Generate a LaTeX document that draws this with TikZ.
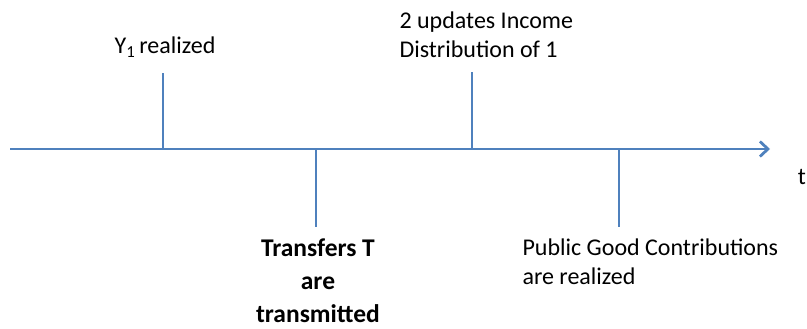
\documentclass[tikz,border=0pt]{standalone}
\usepackage{fontspec}
\setmainfont{Carlito}
\usetikzlibrary{arrows.meta}
\definecolor{axisblue}{RGB}{79,129,189}
\begin{document}
\begin{tikzpicture}[x=1pt, y=-1pt, line join=round, >={Straight Barb[length=8pt,width=15pt]}, font=\fontsize{24}{29}\selectfont]
		\useasboundingbox (0,0) rectangle (807,329);
		\coordinate (S) at (10,149);
		\coordinate (E) at (770,149);
		\coordinate (A) at (163,149);
		\coordinate (B) at (316,149);
		\coordinate (C) at (472,149);
		\coordinate (D) at (619,149);
		\draw[axisblue, line width=2.8pt, ->] (S)--(E);
		\draw[axisblue, line width=2.8pt] (A)--(163,73);
		\draw[axisblue, line width=2.8pt] (B)--(316,227);
		\draw[axisblue, line width=2.8pt] (C)--(472,72);
		\draw[axisblue, line width=2.8pt] (D)--(619,227);
		\node (ya) at (165,47) {Y$_{\mathrm{1}}$\,realized};
		\node[anchor=west, align=left] (upd) at (396,35) {2 updates Income\\Distribution of 1};
		\node (t) at (802,177) {t};
		\node[align=center, font=\fontsize{25.5}{33}\selectfont\bfseries] (tr) at (318,281) {Transfers T\\are\\transmitted};
		\node[anchor=west, align=left] (pg) at (519,262) {Public Good Contributions\\are realized};
	\end{tikzpicture}
\end{document}
